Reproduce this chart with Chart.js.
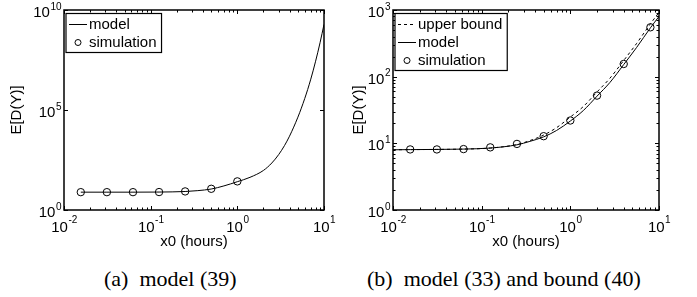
<!DOCTYPE html>
<html>
<head>
<meta charset="utf-8">
<script src="https://cdn.jsdelivr.net/npm/chart.js@4.4.1/dist/chart.umd.min.js"></script>
<style>
body { margin:0; background:#fff; width:697px; height:297px; position:relative; overflow:hidden; }
canvas { position:absolute; top:0; }
.cap { position:absolute; top:268px; font-family:"Liberation Serif", "Times New Roman", serif; font-size:22px; line-height:22px; white-space:pre; color:#000; }
</style>
</head>
<body>
<canvas id="chartA" width="348" height="255" style="left:0"></canvas>
<canvas id="chartB" width="349" height="255" style="left:348px"></canvas>
<div class="cap" style="left:104px">(a)  model (39)</div>
<div class="cap" style="left:367px">(b)  model (33) and bound (40)</div>
<script>
// x0 (hours) where the simulation was run
const xSim = [0.015625, 0.03125, 0.0625, 0.125, 0.25, 0.5, 1, 2, 4, 8];

// (a) model (39)
const simA = [7.8, 7.8, 7.8, 7.9, 8.5, 11.5, 27];
const xModelA = [0.015625, 0.03125, 0.0625, 0.125, 0.25, 0.35, 0.5, 0.7, 1, 1.4, 2, 2.5, 3, 3.5, 4, 5, 6, 7, 8, 9, 10];
const modelA = [7.8, 7.8, 7.8, 7.9, 8.4, 9.3, 11.2, 16, 26, 43, 95, 224, 590, 1660, 4900, 4.4e4, 3.8e5, 3.2e6, 2.75e7, 2.3e8, 1.9e9];

// (b) model (33) and bound (40)
const simB = [8.1, 8.1, 8.2, 8.7, 9.8, 12.8, 22, 52, 155, 550];
const xModelB = [0.01, 0.015625, 0.03125, 0.0625, 0.125, 0.25, 0.35, 0.5, 0.7, 1, 1.4, 2, 2.8, 4, 5.6, 8, 10];
const modelB = [8.0, 8.05, 8.1, 8.2, 8.5, 9.5, 10.7, 12.5, 15.6, 21.6, 31, 51, 82, 152, 275, 540, 800];
const boundB = [8.0, 8.05, 8.1, 8.2, 8.5, 9.6, 11.0, 13.3, 17.2, 24.8, 35.6, 59, 95, 175, 316, 620, 920];

// tick exponents
const xTickExp = [-2, -1, 0, 1];
const yTickExpA = [0, 5, 10];
const yTickExpB = [0, 1, 2, 3];

const SANS = '"Liberation Sans", Arial, sans-serif';

const pts = (xs, ys) => ys.map((y, i) => ({ x: xs[i], y: y }));

const minors = (e0, e1) => {
  let out = [];
  for (let e = e0; e < e1; e++) for (let k = 2; k <= 9; k++) out.push(k * Math.pow(10, e));
  return out;
};

const axesCfg = {
  chartA: { xExp: xTickExp, yExp: yTickExpA, xMinor: minors(-2, 1), yMinor: [], yTitleOff: 47 },
  chartB: { xExp: xTickExp, yExp: yTickExpB, xMinor: minors(-2, 1), yMinor: minors(0, 3), yTitleOff: 34 }
};

function seg(ctx, x1, y1, x2, y2) {
  ctx.beginPath(); ctx.moveTo(x1, y1); ctx.lineTo(x2, y2); ctx.stroke();
}

function powLabel(ctx, exp, x, y, align, rise) {
  ctx.font = '15px ' + SANS;
  const wb = ctx.measureText('10').width;
  ctx.font = '10px ' + SANS;
  const we = ctx.measureText(String(exp)).width;
  const start = align === 'center' ? x - (wb + we) / 2 : x - wb - we;
  ctx.textAlign = 'left'; ctx.textBaseline = 'middle';
  ctx.font = '15px ' + SANS;
  ctx.fillText('10', start, y);
  ctx.font = '10px ' + SANS;
  ctx.fillText(String(exp), start + wb + 0.5, y - rise);
}

const matlabAxes = {
  id: 'matlabAxes',
  afterDraw(chart) {
    const c = axesCfg[chart.canvas.id];
    const ctx = chart.ctx, a = chart.chartArea, sx = chart.scales.x, sy = chart.scales.y;
    ctx.save();
    ctx.strokeStyle = '#000'; ctx.fillStyle = '#000';
    ctx.lineWidth = 1;

    // inward ticks, all four sides
    c.xMinor.forEach(v => {
      const p = Math.round(sx.getPixelForValue(v)) + 0.5;
      seg(ctx, p, a.bottom, p, a.bottom - 2.5); seg(ctx, p, a.top, p, a.top + 2.5);
    });
    c.xExp.forEach(e => {
      const p = Math.round(sx.getPixelForValue(Math.pow(10, e))) + 0.5;
      seg(ctx, p, a.bottom, p, a.bottom - 4); seg(ctx, p, a.top, p, a.top + 4);
    });
    c.yMinor.forEach(v => {
      const p = Math.round(sy.getPixelForValue(v)) + 0.5;
      seg(ctx, a.left, p, a.left + 2.5, p); seg(ctx, a.right, p, a.right - 2.5, p);
    });
    c.yExp.forEach(e => {
      const p = Math.round(sy.getPixelForValue(Math.pow(10, e))) + 0.5;
      seg(ctx, a.left, p, a.left + 4, p); seg(ctx, a.right, p, a.right - 4, p);
    });

    ctx.lineWidth = 1.5;
    ctx.strokeRect(a.left, a.top, a.right - a.left, a.bottom - a.top);

    // tick labels
    c.xExp.forEach(e => powLabel(ctx, e, sx.getPixelForValue(Math.pow(10, e)), a.bottom + 18, 'center', 7.5));
    c.yExp.forEach(e => powLabel(ctx, e, a.left - 3, sy.getPixelForValue(Math.pow(10, e)) + 3, 'right', 6));

    // axis titles
    ctx.font = '15px ' + SANS;
    ctx.textAlign = 'center'; ctx.textBaseline = 'middle';
    ctx.fillText('x0 (hours)', (a.left + a.right) / 2, a.bottom + 32);
    ctx.save();
    ctx.translate(a.left - c.yTitleOff, (a.top + a.bottom) / 2);
    ctx.rotate(-Math.PI / 2);
    ctx.fillText('E[D(Y)]', 0, 0);
    ctx.restore();

    // legend box in the upper left corner
    const ds = chart.data.datasets;
    ctx.font = '15px ' + SANS;
    let tw = 0;
    ds.forEach(d => { tw = Math.max(tw, ctx.measureText(d.label).width); });
    const bx = a.left + 2, by = a.top + 3.5;
    const bw = 23 + tw + 5, bh = 18 * ds.length + 3;
    ctx.fillStyle = '#fff';
    ctx.fillRect(bx, by, bw, bh);
    ctx.fillStyle = '#000';
    ctx.lineWidth = 1.2;
    ctx.strokeRect(bx, by, bw, bh);
    ds.forEach((d, i) => {
      const cy = by + 11 + 18 * i;
      if (d.showLine === false) {
        ctx.lineWidth = 1;
        ctx.beginPath(); ctx.arc(bx + 12, cy, 3, 0, Math.PI * 2); ctx.stroke();
      } else {
        ctx.lineWidth = 1;
        ctx.setLineDash(d.borderDash || []);
        seg(ctx, bx + 3, cy, bx + 21, cy);
        ctx.setLineDash([]);
      }
      ctx.textAlign = 'left'; ctx.textBaseline = 'middle';
      ctx.fillText(d.label, bx + 23, cy);
    });
    ctx.restore();
  }
};

const lineSet = (label, data, dash) => ({
  label: label, data: data, borderColor: '#000', borderWidth: 1, borderDash: dash || [],
  pointRadius: 0, fill: false, cubicInterpolationMode: 'monotone'
});
const simSet = data => ({
  label: 'simulation', data: data, showLine: false, borderColor: '#000',
  pointRadius: 3.7, pointBorderWidth: 1, pointBorderColor: '#000', pointBackgroundColor: 'rgba(0,0,0,0)'
});

function makeChart(id, datasets, ymax, pad) {
  return new Chart(document.getElementById(id), {
    type: 'line',
    data: { datasets: datasets },
    options: {
      responsive: false, animation: false, devicePixelRatio: 1,
      layout: { padding: pad, autoPadding: false },
      plugins: { legend: { display: false }, tooltip: { enabled: false } },
      scales: {
        x: { type: 'logarithmic', min: 0.01, max: 10, ticks: { display: false }, grid: { display: false }, border: { display: false },
             afterFit: s => { s.height = 0; } },
        y: { type: 'logarithmic', min: 1, max: ymax, ticks: { display: false }, grid: { display: false }, border: { display: false },
             afterFit: s => { s.width = 0; } }
      }
    },
    plugins: [matlabAxes]
  });
}

makeChart('chartA', [
  lineSet('model', pts(xModelA, modelA)),
  simSet(pts(xSim, simA))
], 1e10, { left: 64, right: 24, top: 10, bottom: 45 });

makeChart('chartB', [
  lineSet('upper bound', pts(xModelB, boundB), [3, 3]),
  lineSet('model', pts(xModelB, modelB)),
  simSet(pts(xSim, simB))
], 1e3, { left: 45, right: 38, top: 10, bottom: 45 });
</script>
</body>
</html>
